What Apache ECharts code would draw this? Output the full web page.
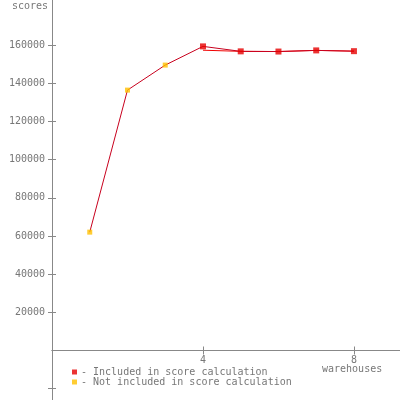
<!DOCTYPE html>
<html><head><meta charset="utf-8">
<script src="https://cdn.jsdelivr.net/npm/echarts@6/dist/echarts.min.js"></script>
<style>html,body{margin:0;padding:0;background:#fff}#c{width:400px;height:400px}</style>
</head><body><div id="c"></div>
<script>
const warehouses = [1, 2, 3, 4, 5, 6, 7, 8];
const scores = [62000, 136400, 149500, 159300, 156700, 156600, 157200, 156800];
const includedFlags = [false, false, false, true, true, true, true, true];
const includedLineScores = [157300, 156700, 156600, 157200, 156800];
const xTicks = [4, 8];
const yTickLabels = [20000, 40000, 60000, 80000, 100000, 120000, 140000, 160000];
const yTicksNeg = [-20000];

const allPts = warehouses.map((w, i) => [w, scores[i]]);
const incPts = allPts.filter((p, i) => includedFlags[i]);
const notPts = allPts.filter((p, i) => !includedFlags[i]);
const incLine = incPts.map((p, i) => [p[0], includedLineScores[i]]);

const font = 'DejaVu Sans Mono';
const txt = '#777';
const axisCol = '#888';
const chart = echarts.init(document.getElementById('c'), null, {renderer: 'canvas'});
const tick = (vals, inside) => ({show: true, customValues: vals, length: 4, inside: inside, lineStyle: {color: axisCol, width: 1}});
const line = {onZero: false, lineStyle: {color: axisCol, width: 1}};
const xBase = {type: 'value', min: 0, max: 9.22, splitLine: {show: false}};
const yTop = {type: 'value', min: 0, max: 183600, splitLine: {show: false}, gridIndex: 0};
const yBot = {type: 'value', min: -25900, max: 0, splitLine: {show: false}, gridIndex: 1};
chart.setOption({
  animation: false,
  grid: [
    {left: 52, right: 0, top: 0, height: 350.5, containLabel: false, outerBoundsMode: 'none'},
    {left: 52, right: 0, top: 350.5, bottom: 0, containLabel: false, outerBoundsMode: 'none'}
  ],
  xAxis: [
    Object.assign({}, xBase, {
      gridIndex: 0, position: 'bottom',
      axisLine: line,
      axisTick: tick(xTicks, false),
      axisLabel: {customValues: xTicks, color: txt, fontFamily: font, fontSize: 10, margin: 5, formatter: v => String(v)}
    }),
    Object.assign({}, xBase, {
      gridIndex: 0, position: 'bottom', offset: 0,
      axisLine: line,
      axisTick: tick(xTicks, true),
      axisLabel: {show: false}
    }),
    Object.assign({}, xBase, {
      gridIndex: 1, show: false
    })
  ],
  yAxis: [
    Object.assign({}, yTop, {
      position: 'left',
      axisLine: line,
      axisTick: tick(yTickLabels, false),
      axisLabel: {customValues: yTickLabels, color: txt, fontFamily: font, fontSize: 10, margin: 7, formatter: v => String(v)}
    }),
    Object.assign({}, yTop, {
      position: 'left', offset: 0,
      axisLine: line,
      axisTick: tick(yTickLabels, true),
      axisLabel: {show: false}
    }),
    Object.assign({}, yBot, {
      position: 'left',
      axisLine: line,
      axisTick: tick(yTicksNeg, false),
      axisLabel: {show: false}
    }),
    Object.assign({}, yBot, {
      position: 'left', offset: 0,
      axisLine: line,
      axisTick: tick(yTicksNeg, true),
      axisLabel: {show: false}
    })
  ],
  legend: {
    orient: 'vertical', left: 72, top: 367, padding: 0, itemGap: 0,
    itemWidth: 5, itemHeight: 5, icon: 'rect',
    textStyle: {fontFamily: font, fontSize: 10, color: txt, lineHeight: 9, padding: [0, 0, 0, -1]},
    data: [
      {name: '- Included in score calculation', itemStyle: {color: '#e60000'}},
      {name: '- Not included in score calculation', itemStyle: {color: '#ffc000'}}
    ]
  },
  graphic: [
    {type: 'text', left: 12, top: 1, style: {text: 'scores', font: '10px "DejaVu Sans Mono"', fill: txt}},
    {type: 'text', left: 322, top: 364, style: {text: 'warehouses', font: '10px "DejaVu Sans Mono"', fill: txt}}
  ],
  series: [
    {type: 'line', xAxisIndex: 0, yAxisIndex: 0, data: incLine, showSymbol: false, symbol: 'none', lineStyle: {color: '#f00000', width: 1}, z: 2},
    {type: 'line', xAxisIndex: 0, yAxisIndex: 0, data: allPts, showSymbol: false, symbol: 'none', lineStyle: {color: '#c8001e', width: 1}, z: 3},
    {name: '- Included in score calculation', type: 'scatter', xAxisIndex: 0, yAxisIndex: 0, data: incPts, symbol: 'rect', symbolSize: 6, itemStyle: {color: '#e60000'}, z: 4},
    {name: '- Not included in score calculation', type: 'scatter', xAxisIndex: 0, yAxisIndex: 0, data: notPts, symbol: 'rect', symbolSize: 5, itemStyle: {color: '#ffc000'}, z: 4}
  ]
});
</script></body></html>
